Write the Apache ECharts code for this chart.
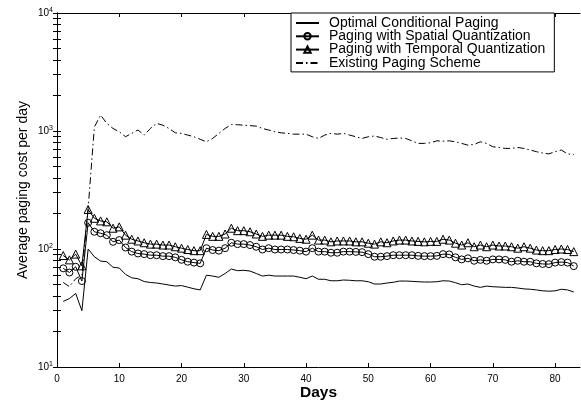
<!DOCTYPE html>
<html>
<head>
<meta charset="utf-8">
<script src="https://cdn.jsdelivr.net/npm/echarts@6/dist/echarts.min.js"></script>
<style>html,body{margin:0;padding:0;background:#fff;}#c{width:581px;height:402px;}</style>
</head>
<body>
<div id="c"></div>
<script>
const seriesNames = ['Optimal Conditional Paging','Paging with Spatial Quantization','Paging with Temporal Quantization','Existing Paging Scheme'];
const days = [1,2,3,4,5,6,7,8,9,10,11,12,13,14,15,16,17,18,19,20,21,22,23,24,25,26,27,28,29,30,31,32,33,34,35,36,37,38,39,40,41,42,43,44,45,46,47,48,49,50,51,52,53,54,55,56,57,58,59,60,61,62,63,64,65,66,67,68,69,70,71,72,73,74,75,76,77,78,79,80,81,82,83];
const optimal = [36,38,42,30,100,86,79,78,70,69,61,57,56,53,52,51.5,50.5,49.5,48.5,49,47.5,46,45,60,59,57.6,62,67.6,65.5,66,65,62,59,60,59,59,59,59,57.6,56,59,55.4,55.4,53.8,53.8,54.6,54.3,53.8,53.8,52.8,50.5,50.5,51.5,52.2,53.5,53.5,53.2,52.8,52.5,52.5,52.8,53.8,53.5,51.8,49.8,50.5,48.5,47.3,48.5,47.9,47.6,47.3,47.3,46.7,45.9,45.6,45,44.2,43.9,44.2,45.6,45,43.2];
const spatial = [68.6,63.2,70.7,53.5,167,140,136,131,115,119,103,95,91.6,90.5,88.6,88.6,87,87,85,81,78,76.7,75.6,101.6,98,96.8,101.6,113,110,110,108,104.5,99,101.6,99,99,99,98,96.8,95,101.6,95,95,93,93,95,95,94.5,94,90.5,86,86,87,88.6,88.6,88.6,88.6,87.4,87,87,87.4,90.5,90,85,81.6,83.4,79.5,80.9,79.5,81.6,81.6,80.9,78,79.5,78,78,75.6,74.7,74.4,76.7,77.5,76.7,71.6];
const temporal = [88,80.9,90.5,72,216,182,173,170,150,154,131,121,117,113,110,110,108,108,104.5,101.6,99,96.8,96.8,133,128,128,134,150,143,143,140,134,128,131,131,131,128,127,123,121,131,119,119,115,117,117,117,115,115,112,110,115,113,117,119,119,117,116,115,116,116,121,119,112,108,113,104.5,108,104.5,108,106,106,104.5,101.6,104.5,101.6,98,96.8,96.8,99,100,99,95];
const existing = [52,48,56,60,220,1080,1365,1160,1050,985,894,955,1020,923,1050,1160,1120,1050,965,955,923,894,850,810,865,955,1050,1135,1130,1120,1110,1100,1050,1020,985,965,955,940,940,940,894,865,923,955,940,955,923,894,865,894,907,880,850,865,872,865,825,785,785,795,825,820,825,810,785,758,770,810,785,735,725,712,712,725,712,690,668,650,640,668,690,640,630];
const xTicks = [0,10,20,30,40,50,60,70,80];
const yDecades = [10,100,1000,10000];
const yMinor = [20,30,40,50,60,70,80,90,200,300,400,500,600,700,800,900,2000,3000,4000,5000,6000,7000,8000,9000];

const FONT = 'Liberation Sans';
const pairs = arr => days.map((d,i)=>[d,arr[i]]);
const supMap = {1:'1',2:'2',3:'3',4:'4'};
const axisLine = {show:true, lineStyle:{color:'#000', width:1}};
const allYTicks = yDecades.concat(yMinor);
const noSym = {color:'rgba(0,0,0,0)', borderWidth:0, opacity:0};

const chart = echarts.init(document.getElementById('c'), null, {renderer:'canvas'});
chart.setOption({
  animation:false,
  backgroundColor:'#fff',
  grid:{left:57, right:1, top:13, bottom:35, containLabel:false, outerBoundsMode:'none'},
  legend:{
    orient:'vertical', left:291, top:13,
    padding:[3,9,2,4], itemGap:-0.7, itemWidth:23, itemHeight:8,
    backgroundColor:'#fff', borderColor:'#000', borderWidth:1,
    textStyle:{fontFamily:FONT, fontSize:14, color:'#000', lineHeight:12.5, padding:[0,0,0,5]},
    data:[
      {name:seriesNames[0], itemStyle:noSym},
      {name:seriesNames[1]},
      {name:seriesNames[2]},
      {name:seriesNames[3], itemStyle:noSym}
    ]
  },
  xAxis:[
    {type:'value', min:0, max:84, position:'bottom',
     axisLine:axisLine, splitLine:{show:false},
     axisTick:{show:true, inside:true, length:4, customValues:xTicks, lineStyle:{color:'#000'}},
     axisLabel:{customValues:xTicks, fontFamily:FONT, fontSize:10, color:'#000', margin:7},
     name:'Days', nameLocation:'middle', nameGap:18, nameMoveOverlap:false,
     nameTextStyle:{fontFamily:FONT, fontSize:15.5, fontWeight:'bold', color:'#000'}},
    {type:'value', min:0, max:84, position:'top',
     axisLine:axisLine, splitLine:{show:false},
     axisTick:{show:true, inside:true, length:4, customValues:xTicks, lineStyle:{color:'#000'}},
     axisLabel:{show:false}}
  ],
  yAxis:[
    {type:'log', logBase:10, min:10, max:10000, position:'left',
     axisLine:axisLine, splitLine:{show:false}, minorTick:{show:false},
     axisTick:{show:true, inside:true, length:4, customValues:allYTicks, lineStyle:{color:'#000'}},
     axisLabel:{customValues:yDecades, margin:4, color:'#000',
       formatter:v=>'{b|10}{s|'+supMap[Math.round(Math.log10(v))]+'}',
       rich:{b:{fontFamily:FONT, fontSize:10, color:'#000', lineHeight:12},
             s:{fontFamily:FONT, fontSize:7, color:'#000', lineHeight:12, verticalAlign:'top', padding:[0,0,4,0]}}},
     name:'Average paging cost per day', nameLocation:'middle', nameGap:27, nameMoveOverlap:false,
     nameTextStyle:{fontFamily:FONT, fontSize:14, color:'#000'}},
    {type:'log', logBase:10, min:10, max:10000, position:'right',
     axisLine:axisLine, splitLine:{show:false},
     axisTick:{show:true, inside:true, length:4, customValues:allYTicks, lineStyle:{color:'#000'}},
     axisLabel:{show:false}}
  ],
  series:[
    {name:seriesNames[0], type:'line', data:pairs(optimal), symbol:'none',
     lineStyle:{color:'#000', width:1}, itemStyle:{color:'#000'}, z:3},
    {name:seriesNames[1], type:'line', data:pairs(spatial), symbol:'circle', symbolSize:7, showAllSymbol:true,
     lineStyle:{color:'#000', width:1},
     itemStyle:{color:'rgba(255,255,255,0)', borderColor:'#000', borderWidth:1}, z:4},
    {name:seriesNames[2], type:'line', data:pairs(temporal), symbol:'triangle', symbolSize:8, showAllSymbol:true,
     lineStyle:{color:'#000', width:1},
     itemStyle:{color:'rgba(255,255,255,0)', borderColor:'#000', borderWidth:1}, z:4},
    {name:seriesNames[3], type:'line', data:pairs(existing), symbol:'none',
     lineStyle:{color:'#000', width:1, type:[7,3,1.5,3]}, itemStyle:{color:'#000'}, z:2}
  ]
});
</script>
</body>
</html>
